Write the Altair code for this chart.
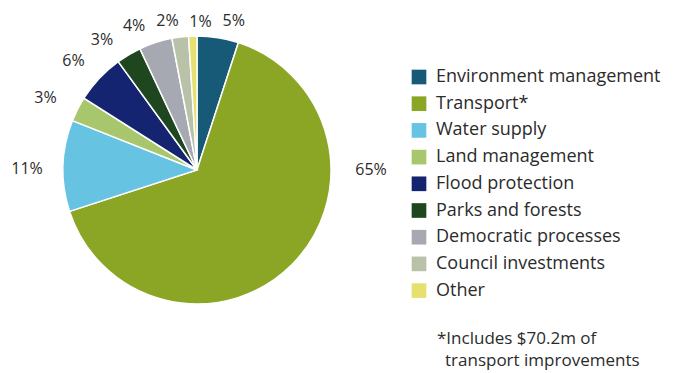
import math
import altair as alt
import pandas as pd

categories = ["Environment management", "Transport*", "Water supply", "Land management",
              "Flood protection", "Parks and forests", "Democratic processes",
              "Council investments", "Other"]
shares = [5, 65, 11, 3, 6, 3, 4, 2, 1]
colors = ["#175a78", "#8ba524", "#66c3e2", "#a8c66c", "#142470", "#1e4720",
          "#a7a9b2", "#b9c1a9", "#e6e070"]
labels = [f"{v}%" for v in shares]
footnote_lines = ["*Includes $70.2m of", "transport improvements"]

# label angles: slice mid-angles, spread apart so small-slice labels don't collide
total = sum(shares)
cum = 0.0
mids = []
for v in shares:
    mids.append((cum + v / 2) / total * 360.0)
    cum += v
# the large slice's label sits at 3 o'clock
ang = [90.0 if v > 50 else m for v, m in zip(shares, mids)]
# unwrap small slices near the top (angles < 60 belong after 360)
unwrapped = [a + 360 if (a < 60 and v <= 50) else a for a, v in zip(ang, shares)]
idx = sorted([i for i, v in enumerate(shares) if v <= 50 and unwrapped[i] > 280],
             key=lambda i: unwrapped[i])
MIN_GAP = 12.5
for _ in range(200):
    for a, b in zip(idx[:-1], idx[1:]):
        gap = unwrapped[b] - unwrapped[a]
        if gap < MIN_GAP:
            push = (MIN_GAP - gap) / 2
            unwrapped[a] -= push
            unwrapped[b] += push
label_rad = [math.radians((a - 1.5) % 360) if v <= 50 else math.radians(a)
             for a, v in zip(unwrapped, shares)]
label_r = [148 + 22 * abs(math.sin(t)) + (4 if v > 50 else 0)
           for t, v in zip(label_rad, shares)]

df = pd.DataFrame({
    "category": categories,
    "share": shares,
    "label": labels,
    "order": list(range(len(categories))),
    "ang": label_rad,
    "r": label_r,
})

W, H = 378, 324
FONT = "Open Sans"
TXT = "#2b2b2b"

base = alt.Chart(df).properties(width=W, height=H)

arcs = base.mark_arc(outerRadius=134, stroke="white", strokeWidth=1.5).encode(
    theta=alt.Theta("share:Q", stack=True),
    order=alt.Order("order:Q"),
    color=alt.Color(
        "category:N",
        scale=alt.Scale(domain=categories, range=colors),
        sort=categories,
        legend=alt.Legend(
            title=None, orient="none", legendX=402, legendY=60,
            symbolType="square", symbolSize=215, symbolStrokeWidth=0,
            labelFont=FONT, labelFontSize=18, labelColor=TXT,
            labelOffset=8, rowPadding=8.7, labelLimit=400,
        ),
    ),
)

pct = base.mark_text(font=FONT, fontSize=16, color=TXT).encode(
    theta=alt.Theta("ang:Q", scale=None),
    radius=alt.Radius("r:Q", scale=None),
    text="label:N",
)

note1 = alt.Chart(pd.DataFrame({"t": [footnote_lines[0]]})).mark_text(
    font=FONT, fontSize=17, color=TXT, align="left", baseline="alphabetic"
).encode(text="t:N", x=alt.value(429), y=alt.value(336))
note2 = alt.Chart(pd.DataFrame({"t": [footnote_lines[1]]})).mark_text(
    font=FONT, fontSize=17, color=TXT, align="left", baseline="alphabetic"
).encode(text="t:N", x=alt.value(437), y=alt.value(358))

chart = alt.layer(arcs, pct, note1, note2).properties(
    width=W, height=H,
    autosize=alt.AutoSizeParams(type="none"),
    padding={"left": 0, "top": 0, "right": 292, "bottom": 41},
    background="white",
).configure_view(stroke=None)

chart.save("out.html", embed_options={"renderer": "svg", "actions": False})
